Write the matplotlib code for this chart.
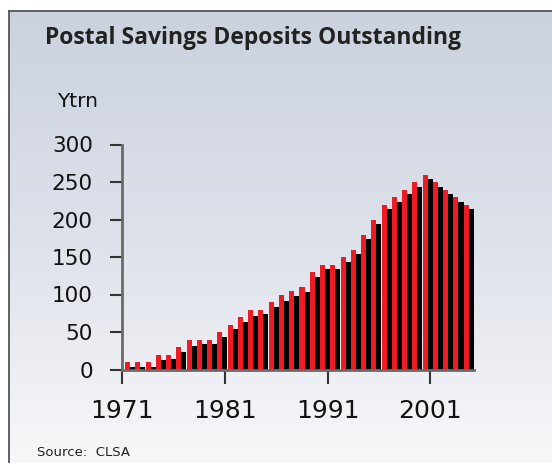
import numpy as np
import matplotlib
matplotlib.use("Agg")
import matplotlib.pyplot as plt
from matplotlib.colors import LinearSegmentedColormap

# postal savings deposits outstanding, Ytrn
years = list(range(1971, 2005))
deposits = [10, 10, 10, 20, 20, 30, 40, 40, 40, 50,
            60, 70, 80, 80, 90, 100, 105, 110, 130, 140,
            140, 150, 160, 180, 200, 220, 230, 240, 250, 260,
            250, 240, 230, 220]
shadow = [3, 3, 3, 13, 14, 23, 32, 34, 34, 43,
          54, 63, 72, 74, 83, 92, 98, 103, 123, 134,
          134, 143, 154, 174, 194, 214, 223, 234, 243, 254,
          243, 234, 223, 214]
tick_years = [1971, 1981, 1991, 2001]
yticks = [0, 50, 100, 150, 200, 250, 300]

W, H = 552, 463
fig = plt.figure(figsize=(W / 100, H / 100), dpi=100)
fig.patch.set_facecolor("white")

# panel background with gradient (dark at top)
bg = fig.add_axes([9 / W, 0, 1 - 9 / W, 1 - 10.5 / H])
grad = np.linspace(0, 1, 256).reshape(-1, 1)
cmap = LinearSegmentedColormap.from_list("bg", ["#cbd2de", "#dde1ea", "#f8f8fa"])
bg.imshow(grad, aspect="auto", cmap=cmap, extent=[0, 1, 0, 1], origin="upper")
bg.set_xlim(0, 1)
bg.set_ylim(0, 1)
bg.set_xticks([])
bg.set_yticks([])
for s in ["right", "bottom"]:
    bg.spines[s].set_visible(False)
for s in ["left", "top"]:
    bg.spines[s].set_color("#555555")
    bg.spines[s].set_linewidth(1.3)

ax = fig.add_axes([122 / W, 1 - 369.5 / H, 352 / W, 225 / H])
ax.patch.set_alpha(0)

idx = np.arange(len(years))
w = 0.49
ax.bar(idx, deposits, width=w, align="edge", color="#ed1c24", linewidth=0)
ax.bar(idx + w, shadow, width=w, align="edge", color="#000000", linewidth=0)

ax.set_xlim(-0.29, 34.0)
ax.set_ylim(0, 300)

ax.set_yticks(yticks)
ax.set_yticklabels([str(v) for v in yticks], fontsize=15.5, color="#111111")
ax.tick_params(axis="y", length=9, width=1.5, color="#333333", pad=12)

ax.set_xticks([y - 1971 - 0.27 if y > 1971 else -0.29 for y in tick_years])
ax.set_xticklabels([str(y) for y in tick_years], fontsize=18, color="#111111")
ax.tick_params(axis="x", length=10, width=1.5, color="#333333", pad=11)

for s in ["top", "right"]:
    ax.spines[s].set_visible(False)
ax.spines["left"].set_color("#6a6a6a")
ax.spines["left"].set_linewidth(2)
ax.spines["bottom"].set_color("#6a6a6a")
ax.spines["bottom"].set_linewidth(2)

fig.text(45 / W, 1 - 38 / H, "Postal Savings Deposits Outstanding",
         fontsize=16.5, fontweight="bold", family="Open Sans",
         color="#222222", va="center", ha="left")
fig.text(57 / W, 1 - 101 / H, "Ytrn", fontsize=14.5, color="#111111",
         va="center", ha="left")
fig.text(37 / W, 1 - 452 / H, "Source:  CLSA", fontsize=9.5, color="#222222",
         va="center", ha="left")

fig.savefig("out.png", dpi=100)
